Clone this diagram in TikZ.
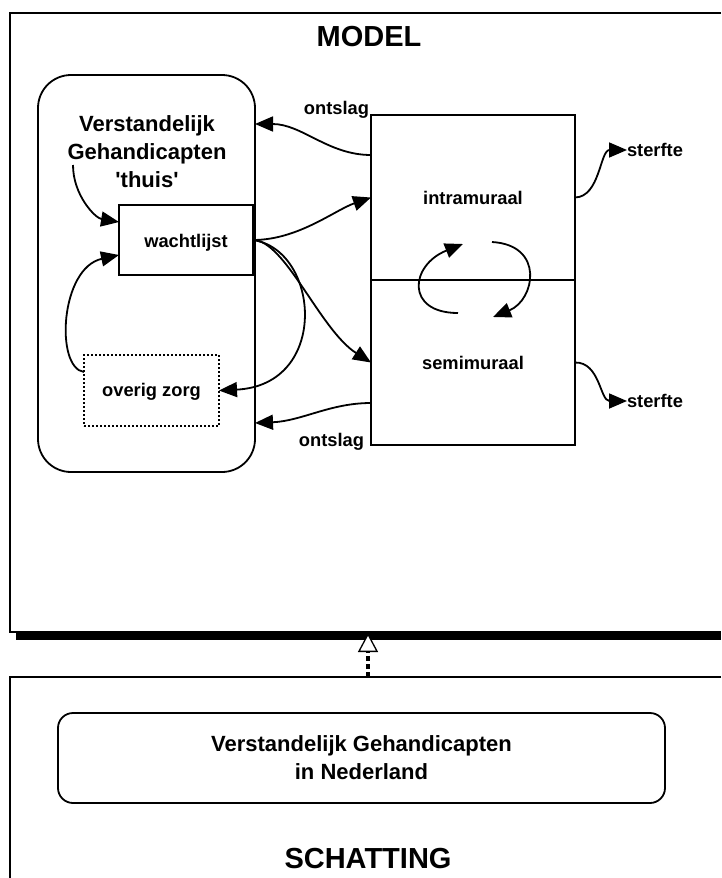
\documentclass[tikz,border=0pt]{standalone}
\usepackage{fontspec}
\setmainfont{Liberation Sans}
\usetikzlibrary{arrows.meta}
\begin{document}
\begin{tikzpicture}[x=1pt,y=-1pt,
  line width=1.8pt,
  every node/.style={outer sep=0pt},
  >={Triangle[length=18pt,width=15pt]},
  bigt/.style={font=\fontsize{22}{28}\selectfont\bfseries},
  smallt/.style={font=\fontsize{18.3}{22}\selectfont\bfseries},
  titlet/.style={font=\fontsize{29}{34}\selectfont\bfseries},
  boxn/.style={draw, inner sep=0pt},
  conn/.style={->, line width=1.8pt}
]
\useasboundingbox (0,0) rectangle (721,878);

% MODEL frame and shadow
\fill (16,633) rectangle (721,640);
\draw (721,13) -- (10,13) -- (10,632) -- (721,632);
\node[titlet, anchor=base] (model) at (369,46) {MODEL};

% SCHATTING frame
\draw (721,677) -- (10,677) -- (10,878);
\node[titlet, anchor=base] (schatting) at (368,868) {SCHATTING};
\node[boxn, rounded corners=15pt, minimum width=607pt, minimum height=90pt,
      bigt, align=center] (vgn) at (361.5,758)
      {Verstandelijk Gehandicapten\\in Nederland};

\coordinate (modelbot) at (368,633);
\coordinate (schtop) at (368,677);
\draw[line width=3.5pt, dash pattern=on 5pt off 3pt,
      -{Triangle[length=19pt,width=20pt,fill=white,line width=1.3pt]}]
      (schtop) -- (modelbot);

% left rounded container
\node[boxn, rounded corners=33pt, minimum width=217pt, minimum height=397pt] (vg) at (146.5,273.5) {};
\node[bigt, align=center, inner sep=0pt] (vgt) at (147,152)
      {Verstandelijk\\Gehandicapten\\\textquotesingle thuis\textquotesingle};
\coordinate (gstart) at (73,165);

\node[boxn, smallt, minimum width=134pt, minimum height=70pt,
      text height=14pt, text depth=0pt] (wacht) at (186,240) {wachtlijst};
\node[draw, inner sep=0pt, line width=2pt, dash pattern=on 2pt off 2pt,
      smallt, minimum width=135pt, minimum height=71pt,
      text height=11pt, text depth=0pt] (overig) at (151.5,390.5) {overig zorg};

% right compartments
\node[boxn, smallt, minimum width=204pt, minimum height=165pt,
      text height=13pt, text depth=0pt] (intra) at (473,197.5) {intramuraal};
\node[boxn, smallt, minimum width=204pt, minimum height=165pt,
      text height=13pt, text depth=0pt] (semi) at (473,362.5) {semimuraal};

% labels
\node[smallt, anchor=base east, inner sep=0pt] (ontslag1) at (369,114) {ontslag};
\node[smallt, anchor=base east, inner sep=0pt] (ontslag2) at (364,446) {ontslag};
\node[smallt, anchor=west, inner sep=0pt] (st1) at (627,150) {sterfte};
\node[smallt, anchor=west, inner sep=0pt] (st2) at (627,401) {sterfte};

% connectors
\draw[conn] ([yshift=-40pt]intra.north west) .. controls (328,155) and (302,124) .. ([yshift=-49pt]vg.north east);
\draw[conn] ([yshift=42pt]semi.south west) .. controls (330,403) and (302,421) .. ([yshift=49pt]vg.south east);
\draw[conn] (wacht.east) .. controls (298,240) and (335,210) .. (intra.west);
\draw[conn] (wacht.east) .. controls (285,240) and (320,330) .. (semi.west);
\draw[conn] (wacht.east) .. controls (320,250) and (330,385) .. (overig.east);
\draw[conn] ([yshift=-17pt]overig.north west) .. controls (55,368) and (60,268) .. ([yshift=20pt]wacht.south west);
\draw[conn] (gstart) .. controls (73,195) and (95,218) .. ([yshift=-17pt]wacht.north west);
\draw[conn] (intra.east) .. controls (600,197) and (600,150) .. (st1.west);
\draw[conn] (semi.east) .. controls (600,362) and (600,401) .. (st2.west);

% circular exchange
\coordinate (c1s) at (458,313);
\coordinate (c1e) at (463,244);
\coordinate (c2s) at (492,242);
\coordinate (c2e) at (493,317);
\draw[conn] (c1s) .. controls (405,313) and (410,265) .. (c1e);
\draw[conn] (c2s) .. controls (545,245) and (535,300) .. (c2e);
\end{tikzpicture}
\end{document}
